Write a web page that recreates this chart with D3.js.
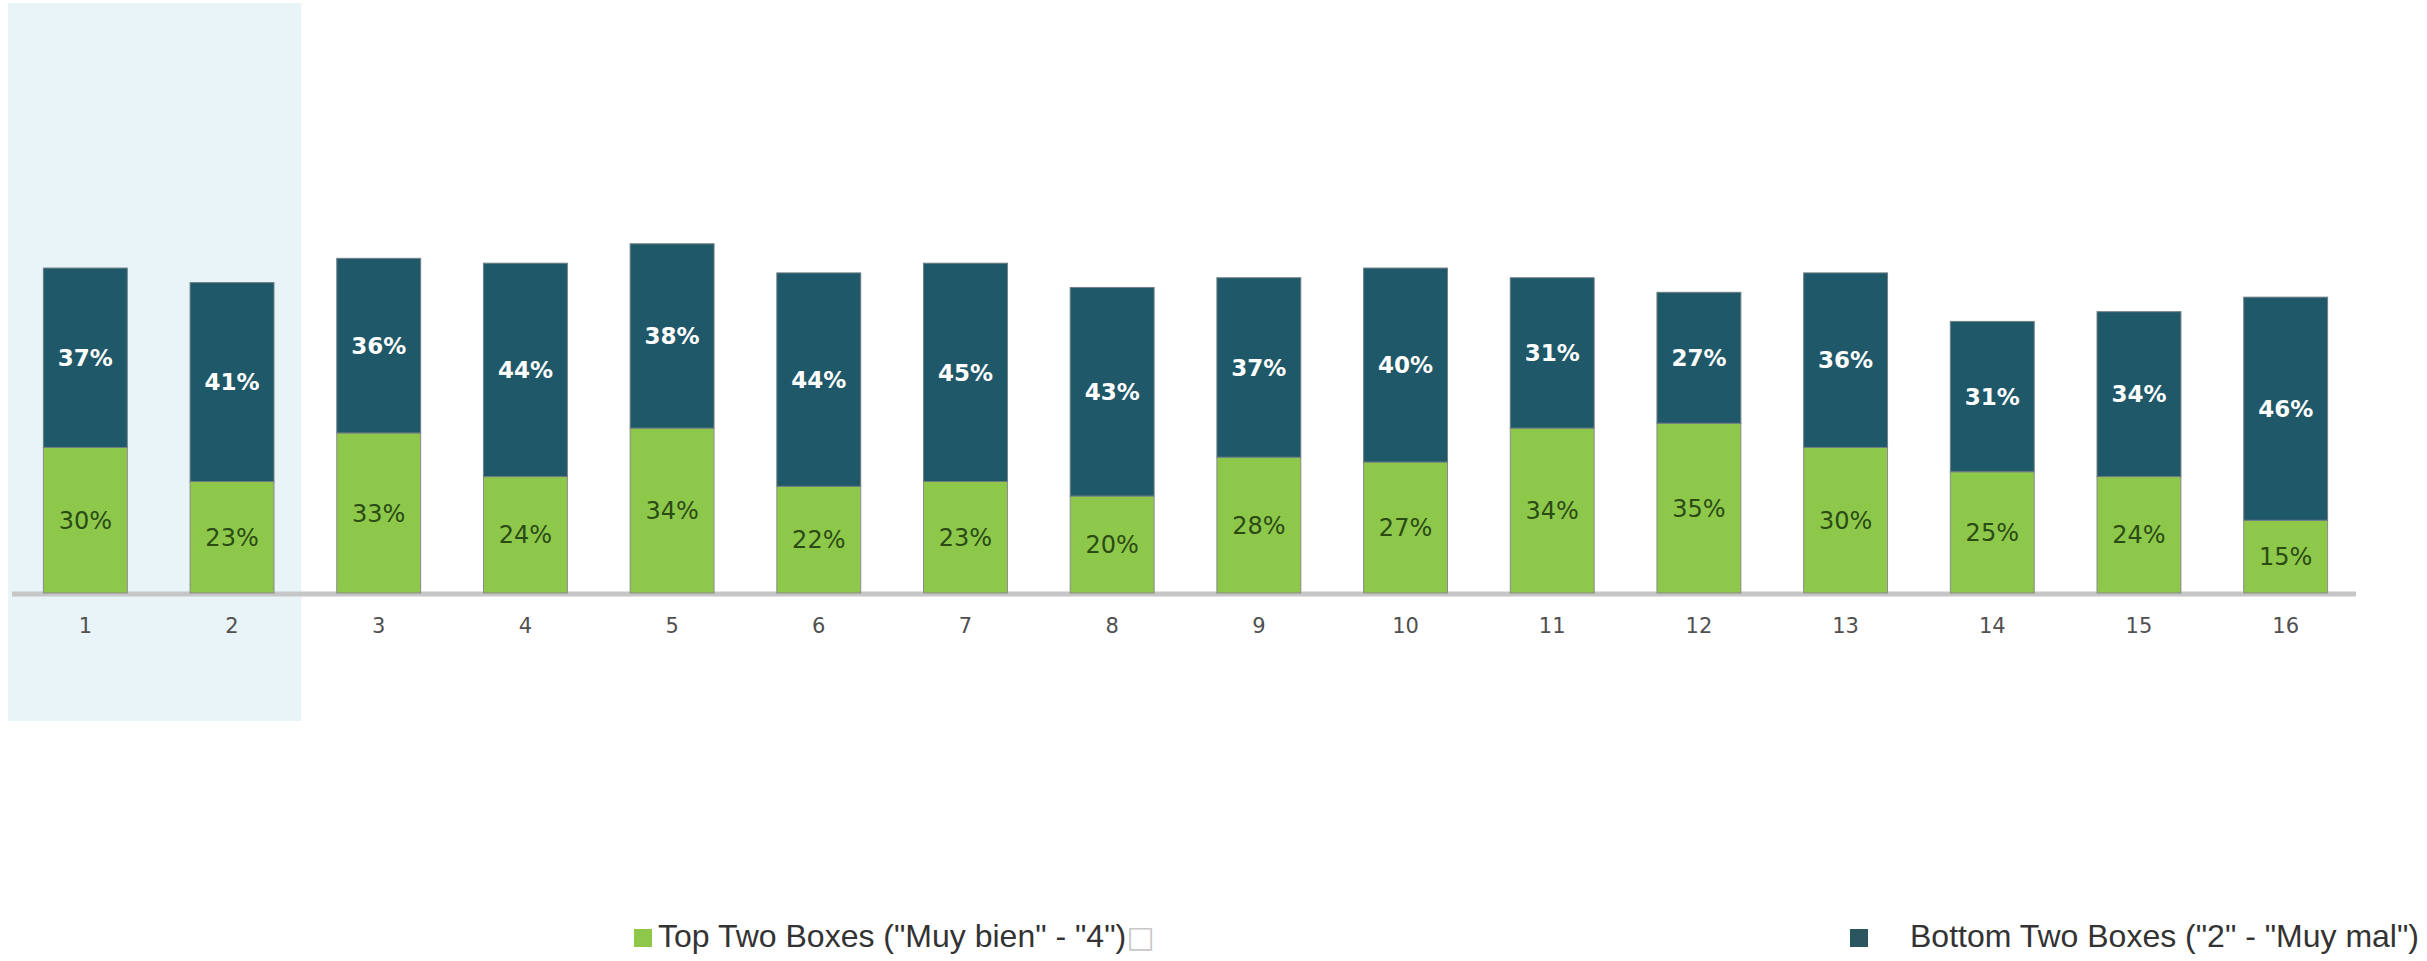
<!DOCTYPE html>
<html>
<head>
<meta charset="utf-8">
<script src="https://cdn.jsdelivr.net/npm/d3@7"></script>
<style>
  html, body { margin: 0; padding: 0; background: #fff; }
  svg { display: block; }
</style>
</head>
<body>
<div id="chart"></div>
<script>
// data
const categories = ["1", "2", "3", "4", "5", "6", "7", "8", "9", "10", "11", "12", "13", "14", "15", "16"];
const topTwo = [30, 23, 33, 24, 34, 22, 23, 20, 28, 27, 34, 35, 30, 25, 24, 15];
const bottomTwo = [37, 41, 36, 44, 38, 44, 45, 43, 37, 40, 31, 27, 36, 31, 34, 46];
const highlighted = ["1", "2"];
const seriesNames = ['Top Two Boxes ("Muy bien" - "4")', 'Bottom Two Boxes ("2" - "Muy mal")'];

const width = 2427;
const height = 961;

const colors = { top: "#8dc84b", bottom: "#1f5868", legendBottom: "#2a5660" };

const svg = d3.select("#chart")
  .append("svg")
  .attr("width", width)
  .attr("height", height);

const x = d3.scaleBand()
  .domain(categories)
  .range([12, 2359])
  .paddingInner(0.428)
  .paddingOuter(0.214);

const y = d3.scaleLinear()
  .domain([0, 100])
  .range([593, 108]);

// highlighted band behind first two columns
const hlStart = x(highlighted[0]) - x.step() * x.paddingInner() / 2;
const hlEnd = x(highlighted[highlighted.length - 1]) + x.bandwidth() + x.step() * x.paddingInner() / 2;
svg.append("rect")
  .attr("x", hlStart - 4)
  .attr("y", 3)
  .attr("width", hlEnd - hlStart)
  .attr("height", 718)
  .attr("fill", "#e8f4f7");

// baseline
svg.append("line")
  .attr("x1", 12)
  .attr("x2", 2356)
  .attr("y1", y(0) + 1)
  .attr("y2", y(0) + 1)
  .attr("stroke", "#c6c6c6")
  .attr("stroke-width", 5);

const rows = categories.map((c, i) => ({ cat: c, top: topTwo[i], bottom: bottomTwo[i] }));

const bars = svg.append("g").attr("class", "bars");

const groups = bars.selectAll("g")
  .data(rows)
  .enter()
  .append("g");

groups.append("rect")
  .attr("x", (d) => x(d.cat))
  .attr("y", (d) => y(d.top))
  .attr("width", x.bandwidth())
  .attr("height", (d) => y(0) - y(d.top))
  .attr("fill", colors.top)
  .attr("stroke", "#8a8a8a")
  .attr("stroke-width", 1);

groups.append("rect")
  .attr("x", (d) => x(d.cat))
  .attr("y", (d) => y(d.top + d.bottom))
  .attr("width", x.bandwidth())
  .attr("height", (d) => y(d.top) - y(d.top + d.bottom))
  .attr("fill", colors.bottom)
  .attr("stroke", "#6f7f84")
  .attr("stroke-width", 1);

groups.append("text")
  .attr("x", (d) => x(d.cat) + x.bandwidth() / 2)
  .attr("y", (d) => (y(0) + y(d.top)) / 2)
  .attr("dy", "0.36em")
  .attr("text-anchor", "middle")
  .style("font-family", "'DejaVu Sans', sans-serif")
  .style("font-size", "24px")
  .style("fill", "#2b4b15")
  .text((d) => d.top + "%");

groups.append("text")
  .attr("x", (d) => x(d.cat) + x.bandwidth() / 2)
  .attr("y", (d) => (y(d.top) + y(d.top + d.bottom)) / 2)
  .attr("dy", "0.36em")
  .attr("text-anchor", "middle")
  .style("font-family", "'DejaVu Sans', sans-serif")
  .style("font-weight", "bold")
  .style("font-size", "23px")
  .style("fill", "#ffffff")
  .text((d) => d.bottom + "%");

// category axis
const xAxis = svg.append("g")
  .attr("transform", `translate(0, ${y(0) + 22})`)
  .call(d3.axisBottom(x).tickSize(0));
xAxis.select(".domain").remove();
xAxis.selectAll("text")
  .attr("dy", "0.71em")
  .style("font-family", "'DejaVu Sans', sans-serif")
  .style("font-size", "21px")
  .style("fill", "#505050");

// legend
const legend = [
  { name: seriesNames[0], color: colors.top, sx: 634, tx: 658, tofu: true },
  { name: seriesNames[1], color: colors.legendBottom, sx: 1850, tx: 1910, tofu: false },
];

const lg = svg.append("g").attr("class", "legend");
legend.forEach((l) => {
  lg.append("rect")
    .attr("x", l.sx)
    .attr("y", 929)
    .attr("width", 18)
    .attr("height", 18)
    .attr("fill", l.color);
  const t = lg.append("text")
    .attr("x", l.tx)
    .attr("y", 947)
    .style("font-family", "'Liberation Sans', Arial, sans-serif")
    .style("font-size", "32px")
    .style("fill", "#333");
  t.append("tspan").text(l.name);
  if (l.tofu) {
    t.append("tspan")
      .style("font-family", "'DejaVu Sans', sans-serif")
      .style("fill", "#c8c8c8")
      .style("font-size", "30px")
      .text("□");
  }
});
</script>
</body>
</html>
